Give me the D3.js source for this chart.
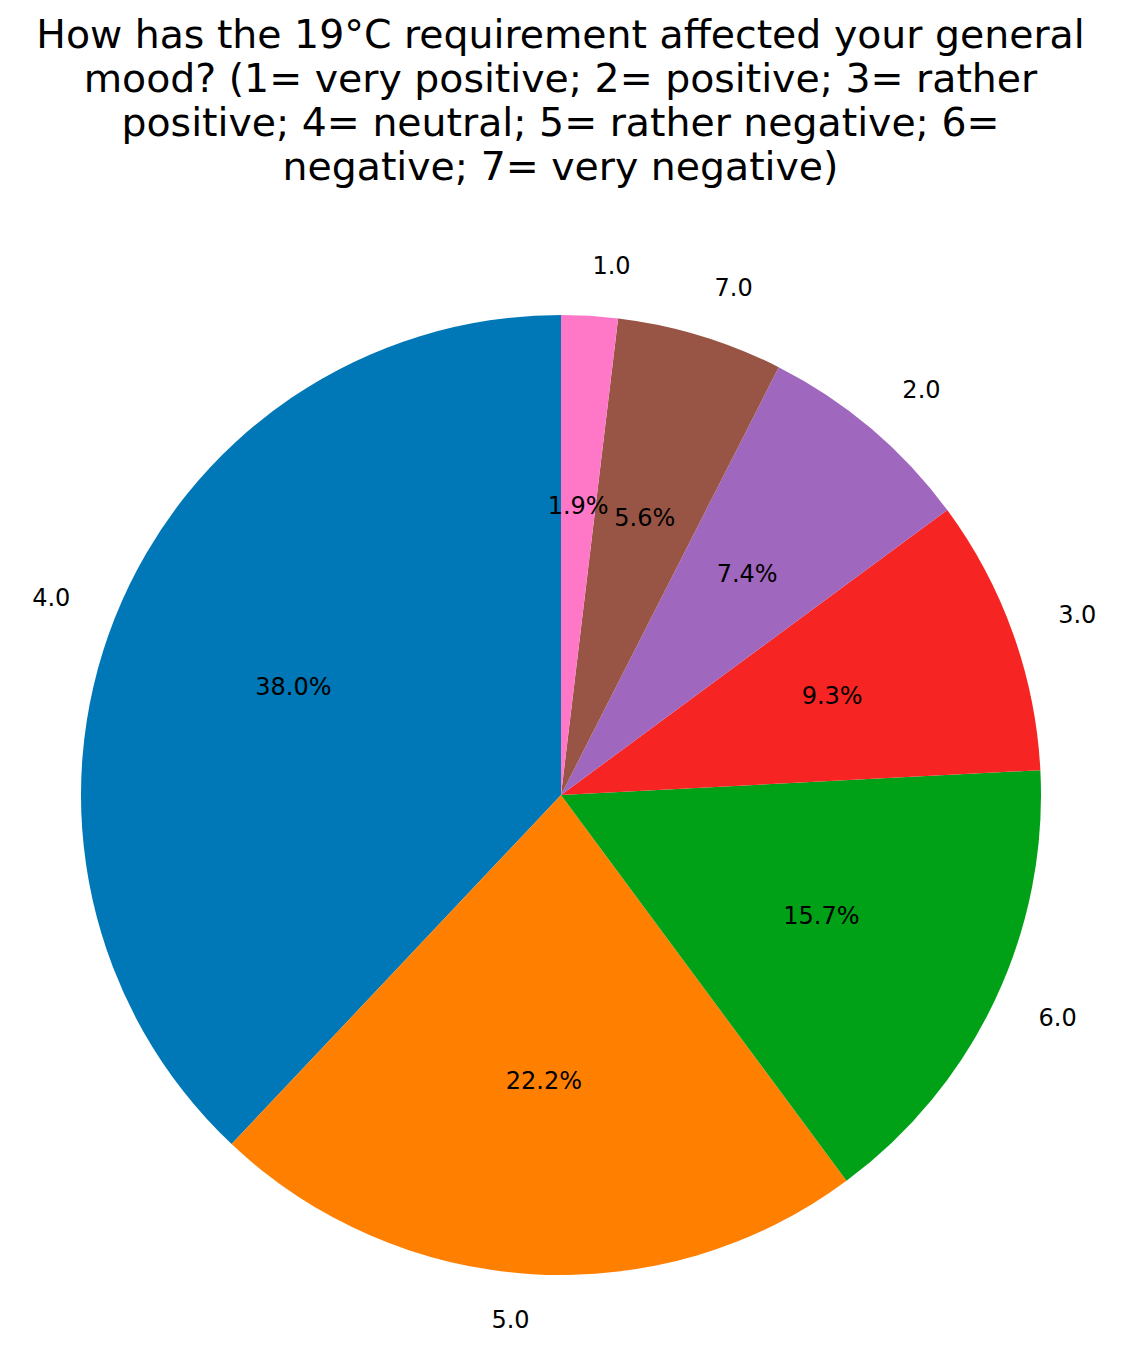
<!DOCTYPE html>
<html>
<head>
<meta charset="utf-8">
<script src="https://cdn.jsdelivr.net/npm/d3@7"></script>
<style>
  html, body { margin: 0; padding: 0; background: #fff; }
  svg { display: block; }
  text { font-family: "DejaVu Sans", sans-serif; fill: #000; }
</style>
</head>
<body>
<svg id="chart" width="1121" height="1359"></svg>
<script>
const categories = ["4.0", "5.0", "6.0", "3.0", "2.0", "7.0", "1.0"];
const values = [38.0, 22.2, 15.7, 9.3, 7.4, 5.6, 1.9];
const colors = ["#0077b6", "#ff7f00", "#00a116", "#f72424", "#a067bf", "#985445", "#ff78c8"];
const titleLines = [
  "How has the 19°C requirement affected your general",
  "mood? (1= very positive; 2= positive; 3= rather",
  "positive; 4= neutral; 5= rather negative; 6=",
  "negative; 7= very negative)"
];

const W = 1121, H = 1359;
const cx = 561, cy = 795, R = 480;
const svg = d3.select("#chart");

svg.append("g").selectAll("text").data(titleLines).join("text")
  .attr("x", W / 2)
  .attr("y", (d, i) => 48 + i * 44)
  .attr("text-anchor", "middle")
  .style("font-size", "39.4px")
  .text(d => d);

const data = categories.map((c, i) => ({ label: c, value: values[i], color: colors[i] }));
const pie = d3.pie().sort(null).value(d => d.value).startAngle(0).endAngle(-2 * Math.PI);
const arcs = pie(data);

const arc = d3.arc().innerRadius(0).outerRadius(R);
const pctArc = d3.arc().innerRadius(0.6 * R).outerRadius(0.6 * R);
const lblArc = d3.arc().innerRadius(1.1 * R).outerRadius(1.1 * R);

const g = svg.append("g").attr("transform", `translate(${cx},${cy})`);
g.selectAll("path").data(arcs).join("path")
  .attr("d", arc)
  .attr("fill", d => d.data.color);

g.selectAll("text.pct").data(arcs).join("text")
  .attr("class", "pct")
  .attr("x", d => pctArc.centroid(d)[0])
  .attr("y", d => pctArc.centroid(d)[1])
  .attr("dy", "0.26em")
  .attr("text-anchor", "middle")
  .style("font-size", "24px")
  .text(d => d.data.value.toFixed(1) + "%");

g.selectAll("text.lbl").data(arcs).join("text")
  .attr("class", "lbl")
  .attr("x", d => lblArc.centroid(d)[0])
  .attr("y", d => lblArc.centroid(d)[1])
  .attr("dy", "0.24em")
  .attr("text-anchor", d => lblArc.centroid(d)[0] > 0 ? "start" : "end")
  .style("font-size", "24px")
  .text(d => d.data.label);
</script>
</body>
</html>
